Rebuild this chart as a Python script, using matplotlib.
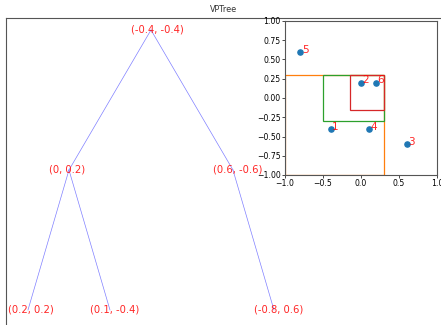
import numpy as np
import matplotlib.pyplot as plt
from matplotlib.patches import Rectangle

# tree nodes (label, slot position, depth, parent index)
node_labels = ['(-0.4, -0.4)', '(0, 0.2)', '(0.6, -0.6)', '(0.2, 0.2)', '(0.1, -0.4)', '(-0.8, 0.6)']
node_slot = [1.5, 0.5, 2.5, 0.0, 1.0, 3.0]
node_depth = [0, 1, 1, 2, 2, 2]
node_parent = [-1, 0, 0, 1, 1, 2]

# points in the plane
pts_x = [-0.4, 0.0, 0.6, 0.1, -0.8, 0.2]
pts_y = [-0.4, 0.2, -0.6, -0.4, 0.6, 0.2]
pts_names = ['1', '2', '3', '4', '5', '6']

# boxes (x0, y0, x1, y1)
boxes = [(-1.0, -1.0, 0.3, 0.3), (-0.5, -0.3, 0.3, 0.3), (-0.15, -0.15, 0.3, 0.3)]
box_colors = ['C1', 'C2', 'C3']

fig = plt.figure(figsize=(4.41, 3.25), dpi=100)

# main tree axes (runs off the right / bottom edge like the original)
ax = fig.add_axes([6 / 441, -0.04, 446 / 441, 1 - 18 / 325 + 0.04])
for i, p in enumerate(node_parent):
    if p >= 0:
        ax.plot([node_slot[p], node_slot[i]], [node_depth[p], node_depth[i]],
                color='blue', alpha=0.5, lw=0.5)
for i in range(len(node_labels)):
    ax.annotate(node_labels[i], (node_slot[i], node_depth[i]), xytext=(-14.4, 0),
                textcoords='offset points', color='red', alpha=0.85,
                fontsize=7.2, ha='left', va='center')
ax.set_xlim(-0.268, -0.268 + 446 / 82)
ax.set_ylim(2.2, -0.0857)
ax.set_xticks([])
ax.set_yticks([])
for s in ax.spines.values():
    s.set_linewidth(0.8)
    s.set_color('#555555')
ax.set_title('VPTree', fontsize=5.8, pad=4, color='#333333', x=217 / 446)

# inset with the points
ax2 = fig.add_axes([285 / 441, 1 - 175 / 325, 152 / 441, 154 / 325])
ax2.scatter(pts_x, pts_y, s=14, color='C0', zorder=3)
for x, y, n in zip(pts_x, pts_y, pts_names):
    ax2.text(x + 0.02, y - 0.01, n, color='red', alpha=0.85, fontsize=7.5,
             va='baseline', ha='left')
for (x0, y0, x1, y1), c in zip(boxes, box_colors):
    ax2.add_patch(Rectangle((x0, y0), x1 - x0, y1 - y0, fill=False, edgecolor=c, lw=0.9))
ax2.set_xlim(-1, 1)
ax2.set_ylim(-1, 1)
ax2.set_xticks([-1.0, -0.5, 0.0, 0.5, 1.0])
ax2.set_yticks(np.arange(-1, 1.01, 0.25))
ax2.tick_params(labelsize=5.6, length=2, width=0.5, pad=1)
for s in ax2.spines.values():
    s.set_linewidth(0.8)
    s.set_color('#555555')

fig.savefig('out.png', dpi=100)
